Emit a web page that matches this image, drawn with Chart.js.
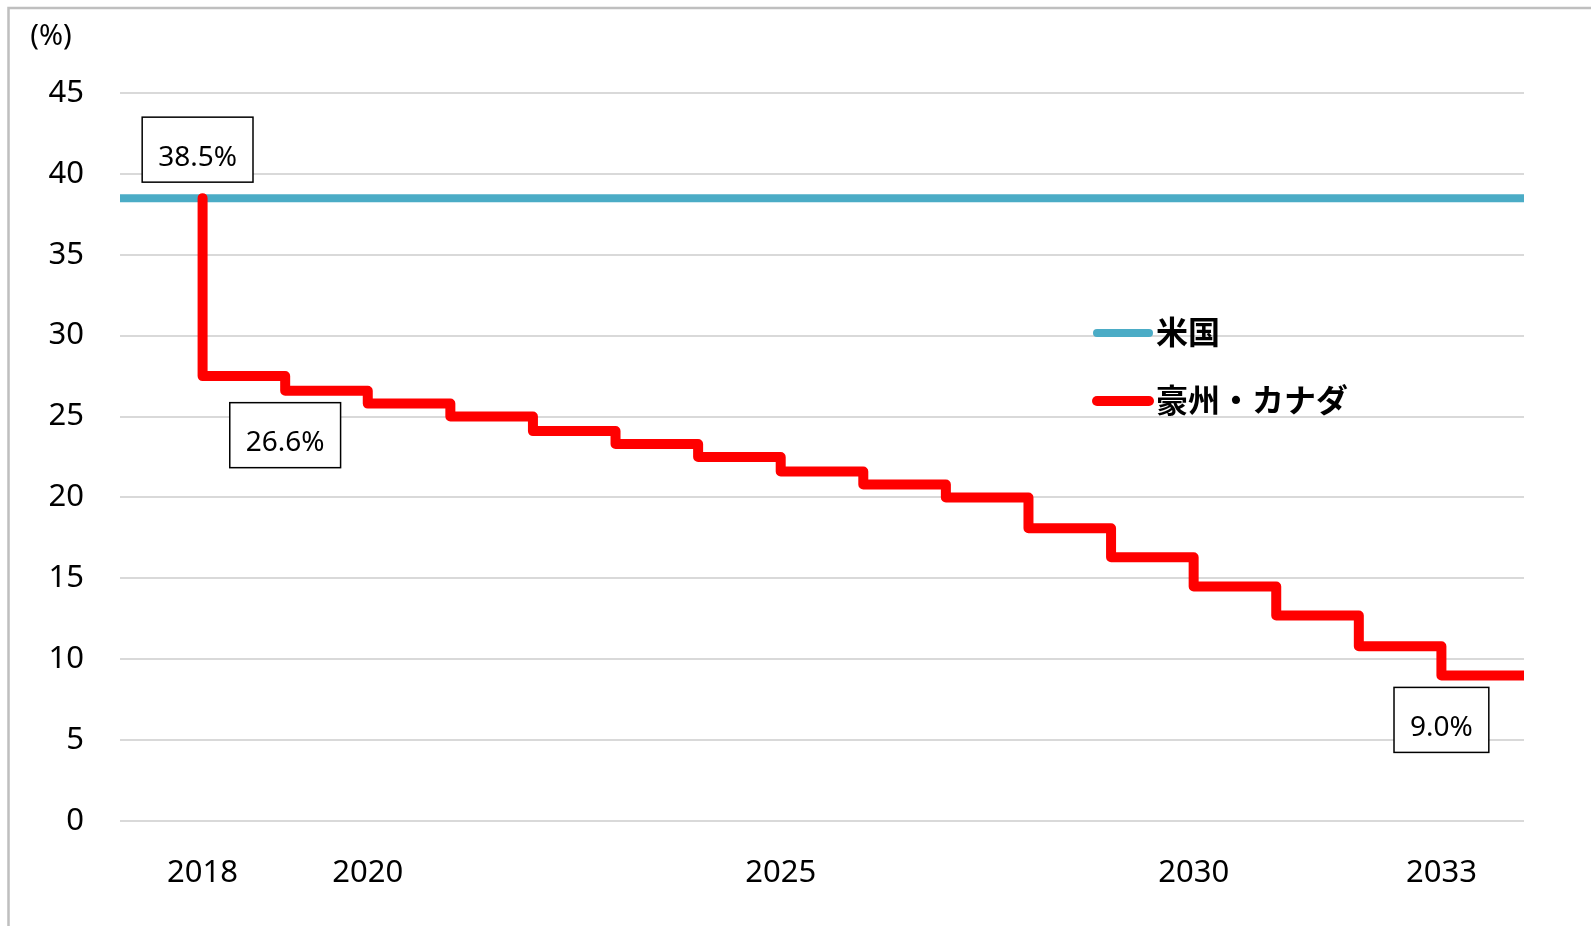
<!DOCTYPE html>
<html>
<head>
<meta charset="utf-8">
<script src="https://cdn.jsdelivr.net/npm/chart.js@4/dist/chart.umd.min.js"></script>
<style>
  html, body { margin: 0; padding: 0; background: #fff; }
  canvas { display: block; }
</style>
</head>
<body>
<canvas id="myChart" width="1591" height="926"></canvas>
<script>
// tariff rates (%) by year
const yearRange = [2017, 2034];
const xTickYears = [2018, 2020, 2025, 2030, 2033];
const seriesNames = ['米国', '豪州・カナダ'];
const usRate = 38.5;
const rateYears = [2018, 2019, 2020, 2021, 2022, 2023, 2024, 2025, 2026, 2027, 2028, 2029, 2030, 2031, 2032, 2033];
const ausCanRates = [27.5, 26.6, 25.8, 25.0, 24.1, 23.3, 22.5, 21.6, 20.8, 20.0, 18.1, 16.3, 14.5, 12.7, 10.8, 9.0];
const US_COLOR = '#4bacc6';
const AUS_COLOR = '#ff0000';

// the US line is flat over the whole range
const usPoints = yearRange.map(y => ({x: y, y: usRate}));
// step line: starts at the US rate, then each year's cut, held to the end
const ausPoints = [{x: rateYears[0], y: usRate}]
  .concat(rateYears.map((y, i) => ({x: y, y: ausCanRates[i]})))
  .concat([{x: yearRange[1], y: ausCanRates[ausCanRates.length - 1]}]);

// boxed value labels
const callouts = [
  {x: 2018, y: usRate, pos: 'above', dx: -5},
  {x: 2019, y: ausCanRates[1], pos: 'below', dx: 0},
  {x: 2033, y: ausCanRates[15], pos: 'below', dx: 0}
];

const labelFont = '28px "Noto Sans"';
const tickFont = {family: 'Noto Sans', size: 31};

const extras = {
  id: 'extras',
  beforeDraw(chart) {
    const c = chart.ctx;
    c.save();
    // outer frame (left and top edges)
    c.strokeStyle = '#bfbfbf';
    c.lineWidth = 2.5;
    c.beginPath();
    c.moveTo(8.5, chart.height);
    c.lineTo(8.5, 8);
    c.lineTo(chart.width, 8);
    c.stroke();
    // unit
    c.fillStyle = '#000';
    c.font = '29px "Noto Sans"';
    c.textAlign = 'center';
    c.textBaseline = 'middle';
    c.fillText('(%)', 51, 37);
    c.restore();
  },
  afterDatasetsDraw(chart) {
    const c = chart.ctx;
    const xs = chart.scales.x, ys = chart.scales.y;
    c.save();
    c.font = labelFont;
    c.textAlign = 'center';
    c.textBaseline = 'middle';
    callouts.forEach(p => {
      const txt = p.y.toFixed(1) + '%';
      const px = xs.getPixelForValue(p.x) + p.dx;
      const py = ys.getPixelForValue(p.y);
      const w = c.measureText(txt).width + 32;
      const h = 65;
      const top = p.pos === 'above' ? py - 16 - h : py + 12;
      c.fillStyle = '#fff';
      c.fillRect(px - w / 2, top, w, h);
      c.strokeStyle = '#000';
      c.lineWidth = 1.5;
      c.strokeRect(px - w / 2, top, w, h);
      c.fillStyle = '#000';
      c.fillText(txt, px, top + h / 2 + 8);
    });

    // legend
    const rows = [{y: 333, color: US_COLOR, w: 8}, {y: 401, color: AUS_COLOR, w: 10}];
    c.font = 'bold 32px "Noto Sans CJK JP"';
    c.textAlign = 'left';
    rows.forEach((r, i) => {
      c.strokeStyle = r.color;
      c.lineWidth = r.w;
      c.lineCap = 'round';
      c.beginPath();
      c.moveTo(1097, r.y);
      c.lineTo(1149, r.y);
      c.stroke();
      c.fillStyle = '#000';
      c.fillText(seriesNames[i], 1156, r.y - 1);
    });
    c.restore();
  }
};

const ctxt = document.getElementById('myChart').getContext('2d');

const myChart = new Chart(ctxt, {
  type: 'line',
  data: {
    datasets: [
      {
        label: seriesNames[1],
        data: ausPoints,
        stepped: 'before',
        borderColor: AUS_COLOR,
        borderWidth: 10,
        borderCapStyle: 'round',
        borderJoinStyle: 'round',
        pointRadius: 0,
        order: 0
      },
      {
        label: seriesNames[0],
        data: usPoints,
        borderColor: US_COLOR,
        borderWidth: 8,
        borderCapStyle: 'butt',
        pointRadius: 0,
        order: 1
      }
    ]
  },
  options: {
    responsive: false,
    animation: false,
    devicePixelRatio: 1,
    layout: {padding: {top: 93, right: 67, left: 0, bottom: 0}},
    plugins: {legend: {display: false}, tooltip: {enabled: false}},
    scales: {
      x: {
        type: 'linear',
        min: yearRange[0],
        max: yearRange[1],
        grid: {display: false},
        border: {display: false},
        afterBuildTicks: scale => { scale.ticks = xTickYears.map(v => ({value: v})); },
        afterFit: scale => { scale.height = 105; },
        ticks: {
          callback: v => String(v),
          autoSkip: false,
          maxRotation: 0,
          padding: 26,
          color: '#000',
          font: tickFont
        }
      },
      y: {
        min: 0,
        max: 45,
        grid: {color: '#d9d9d9', lineWidth: 2, drawTicks: false},
        border: {display: false},
        afterFit: scale => { scale.width = 120; },
        ticks: {
          stepSize: 5,
          padding: 36,
          color: '#000',
          font: tickFont
        }
      }
    }
  },
  plugins: [extras]
});
</script>
</body>
</html>
